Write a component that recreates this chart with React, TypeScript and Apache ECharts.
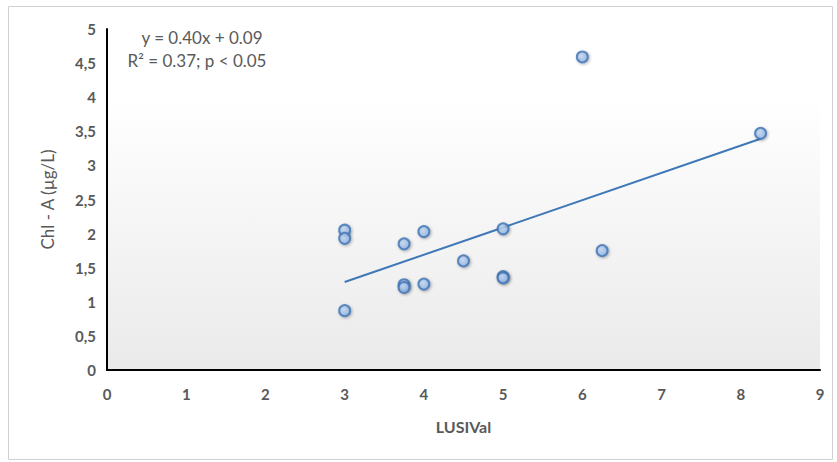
import React, { useEffect, useRef } from "react";
import * as echarts from "echarts";

const lusival = [3, 3, 3, 3.75, 3.75, 3.75, 4, 4, 4.5, 5, 5, 5, 6, 6.25, 8.25];
const chla = [2.05, 1.93, 0.87, 1.85, 1.25, 1.21, 2.03, 1.26, 1.6, 2.07, 1.37, 1.35, 4.59, 1.75, 3.47];
const trendX = [3, 8.25];
const trendY = [1.29, 3.39];
const eqLines = ["y = 0.40x + 0.09", "R² = 0.37; p < 0.05"];

export default function App() {
  const ref = useRef<HTMLDivElement>(null);
  useEffect(() => {
    if (!ref.current) return;
    const chart = echarts.init(ref.current, null, { renderer: "svg" });
    const font = "Lato, 'Open Sans', sans-serif";
    chart.setOption({
      animation: false,
      backgroundColor: "#ffffff",
      grid: {
        left: 107,
        top: 29,
        right: 17,
        bottom: 92,
        show: true,
        borderWidth: 0,
        backgroundColor: {
          type: "linear",
          x: 0,
          y: 0,
          x2: 0,
          y2: 1,
          colorStops: [
            { offset: 0, color: "#ffffff" },
            { offset: 0.2, color: "#ffffff" },
            { offset: 1, color: "#eaeaea" },
          ],
        },
      },
      graphic: [
        {
          type: "rect",
          shape: { x: 8.5, y: 6.5, width: 824, height: 453 },
          style: { fill: "none", stroke: "#d0d0d0", lineWidth: 1 },
          z: -1,
        },
        {
          type: "text",
          x: 202,
          y: 37,
          style: {
            text: eqLines[0],
            font: `17px ${font}`,
            fill: "#595959",
            textAlign: "center",
            textVerticalAlign: "middle",
          },
        },
        {
          type: "text",
          x: 197,
          y: 60,
          style: {
            text: eqLines[1],
            font: `17px ${font}`,
            fill: "#595959",
            textAlign: "center",
            textVerticalAlign: "middle",
          },
        },
      ],
      xAxis: {
        type: "value",
        min: 0,
        max: 9,
        interval: 1,
        name: "LUSIVal",
        nameLocation: "middle",
        nameGap: 48,
        nameTextStyle: { color: "#595959", fontSize: 16, fontWeight: "bold", fontFamily: font },
        axisLine: { show: true, onZero: false, lineStyle: { color: "#000000", width: 2 } },
        axisTick: { show: false },
        splitLine: { show: false },
        axisLabel: { color: "#595959", fontSize: 15, fontWeight: "bold", fontFamily: font, margin: 16 },
      },
      yAxis: {
        type: "value",
        min: 0,
        max: 5,
        interval: 0.5,
        name: "Chl - A (µg/L)",
        nameLocation: "middle",
        nameGap: 51,
        nameRotate: 90,
        nameTextStyle: { color: "#595959", fontSize: 17, fontFamily: font },
        axisLine: { show: true, lineStyle: { color: "#000000", width: 2 } },
        axisTick: { show: false },
        splitLine: { show: false },
        axisLabel: {
          color: "#595959",
          fontSize: 15,
          fontWeight: "bold",
          fontFamily: font,
          margin: 11,
          formatter: (v: number) => String(v).replace(".", ","),
        },
      },
      series: [
        {
          type: "line",
          data: trendX.map((x, i) => [x, trendY[i]]),
          symbol: "none",
          lineStyle: { color: "#3f78b8", width: 2 },
          z: 2,
        },
        {
          type: "scatter",
          data: lusival.map((x, i) => [x, chla[i]]),
          symbol: "circle",
          symbolSize: 11,
          itemStyle: {
            color: {
              type: "radial",
              x: 0.4,
              y: 0.4,
              r: 0.6,
              colorStops: [
                { offset: 0, color: "#c6daf5" },
                { offset: 1, color: "#8fb3e3" },
              ],
            },
            borderColor: "#3f73b3",
            borderWidth: 2,
            shadowColor: "rgba(0,0,0,0.35)",
            shadowBlur: 3,
            shadowOffsetX: 1,
            shadowOffsetY: 1,
          },
          z: 3,
        },
      ],
    });
    return () => chart.dispose();
  }, []);
  return (
    <div
      ref={ref}
      style={{ position: "fixed", left: 0, top: 0, width: 837, height: 462 }}
    />
  );
}
